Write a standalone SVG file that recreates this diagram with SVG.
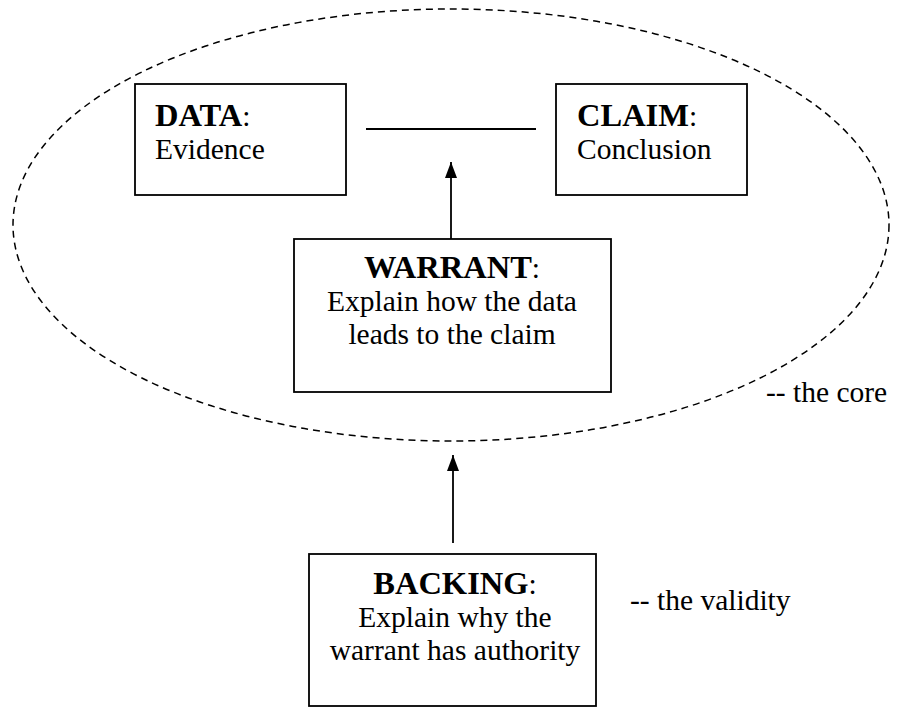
<svg xmlns="http://www.w3.org/2000/svg" width="902" height="709" viewBox="0 0 902 709">
  <style>
    .box { fill: #ffffff; stroke: #000000; stroke-width: 1.8; }
    .txt { font-family: "Liberation Serif", "Times New Roman", serif; font-size: 29.5px; fill: #000000; }
    .b { font-weight: bold; font-size: 32.5px; }
    .core { fill: none; stroke: #000000; stroke-width: 1.5; stroke-dasharray: 7 5; }
    .link { fill: none; stroke: #000000; stroke-width: 1.8; }
  </style>
  <defs>
    <marker id="head" markerUnits="userSpaceOnUse" markerWidth="16" markerHeight="12" refX="16" refY="6" orient="auto" viewBox="0 0 16 12">
      <path d="M0 0 L16 6 L0 12 Z" fill="#000000"/>
    </marker>
  </defs>
  <rect width="902" height="709" fill="#ffffff"/>

  <!-- dashed boundary around the core of the argument -->
  <ellipse class="core" cx="451" cy="225" rx="438" ry="216"/>

  <!-- connectors -->
  <g id="connectors">
    <line class="link" x1="366" y1="129" x2="536" y2="129"/>
    <line class="link" x1="451" y1="239" x2="451" y2="162" marker-end="url(#head)"/>
    <line class="link" x1="453" y1="543" x2="453" y2="455" marker-end="url(#head)"/>
  </g>

  <g id="data">
    <rect class="box" x="135" y="84" width="211" height="111"/>
    <text class="txt" x="155" y="126"><tspan class="b">DATA</tspan>:</text>
    <text class="txt" x="155" y="159">Evidence</text>
  </g>

  <g id="claim">
    <rect class="box" x="556" y="84" width="191" height="111"/>
    <text class="txt" x="577" y="126"><tspan class="b">CLAIM</tspan>:</text>
    <text class="txt" x="577" y="159">Conclusion</text>
  </g>

  <g id="warrant">
    <rect class="box" x="294" y="239" width="317" height="153"/>
    <text class="txt" x="452" y="278" text-anchor="middle"><tspan class="b">WARRANT</tspan>:</text>
    <text class="txt" x="452" y="311" text-anchor="middle">Explain how the data</text>
    <text class="txt" x="452" y="344" text-anchor="middle">leads to the claim</text>
  </g>

  <g id="backing">
    <rect class="box" x="309" y="554" width="287" height="152"/>
    <text class="txt" x="455" y="594" text-anchor="middle"><tspan class="b">BACKING</tspan>:</text>
    <text class="txt" x="455" y="627" text-anchor="middle">Explain why the</text>
    <text class="txt" x="455" y="660" text-anchor="middle">warrant has authority</text>
  </g>

  <g id="labels">
    <text class="txt" x="766" y="402">-- the core</text>
    <text class="txt" x="630" y="610">-- the validity</text>
  </g>
</svg>
